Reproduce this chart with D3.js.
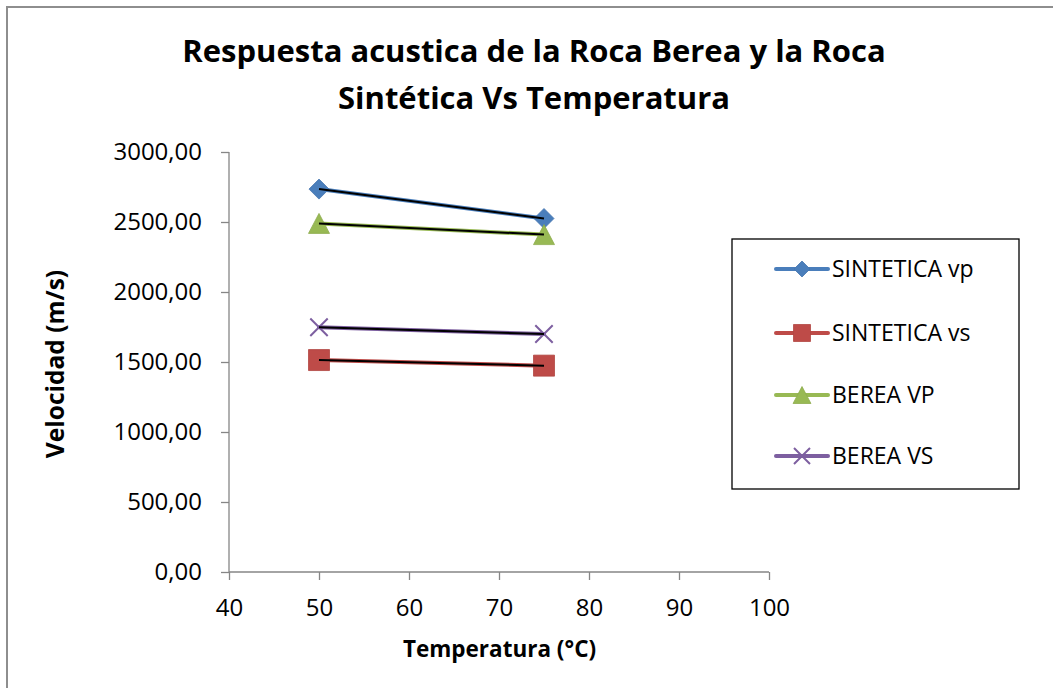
<!DOCTYPE html>
<html><head><meta charset="utf-8">
<script src="https://cdn.jsdelivr.net/npm/d3@7"></script>
<style>body{margin:0;background:#fff}svg{display:block}</style>
</head><body>
<svg id="c" width="1053" height="688"></svg>
<script>
const temps = [50, 75];
const seriesNames = ["SINTETICA vp", "SINTETICA vs", "BEREA VP", "BEREA VS"];
const sinteticaVp = [2735, 2525];
const sinteticaVs = [1514, 1474];
const bereaVp = [2490, 2410];
const bereaVs = [1748, 1700];
const colors = ["#4A7EBB", "#BE4B48", "#98B954", "#7D5FA0"];
const markers = ["diamond", "square", "triangle", "x"];
const yTicks = [0, 500, 1000, 1500, 2000, 2500, 3000];
const xTicks = [40, 50, 60, 70, 80, 90, 100];
const titleLines = ["Respuesta acustica de la Roca Berea y la Roca", "Sintética Vs Temperatura"];

const values = [sinteticaVp, sinteticaVs, bereaVp, bereaVs];
const series = seriesNames.map((n, i) => ({name: n, color: colors[i], marker: markers[i], pts: temps.map((t, j) => [t, values[i][j]])}));
const FONT = "Open Sans, sans-serif";
const svg = d3.select("#c");

svg.append("rect").attr("x", 7).attr("y", 7).attr("width", 1060).attr("height", 700)
  .attr("fill", "#fff").attr("stroke", "#8e8e8e").attr("stroke-width", 2);

const x = d3.scaleLinear().domain([40, 100]).range([229, 769]);
const y = d3.scaleLinear().domain([0, 3000]).range([572, 152]);

const gx = svg.append("g").attr("transform", "translate(0,572)")
  .call(d3.axisBottom(x).tickValues(xTicks).tickSize(8).tickFormat(d3.format("d")));
const gy = svg.append("g").attr("transform", "translate(229,0)")
  .call(d3.axisLeft(y).tickValues(yTicks).tickSize(8).tickPadding(19)
    .tickFormat(d => d3.format(".2f")(d).replace(".", ",")));
[gx, gy].forEach(g => {
  g.selectAll("path,line").attr("stroke", "#868686").attr("stroke-width", 1.3);
  g.selectAll("text").attr("font-family", FONT).attr("font-size", 24).attr("fill", "#000");
});
gx.selectAll("text").attr("y", 44).attr("dy", 0);
gx.select(".domain").attr("d", "M229,0H769");
gy.select(".domain").attr("d", "M0,152V572");

function markerPath(type, s) {
  if (type === "diamond") return `M0,${-s}L${s},0L0,${s}L${-s},0Z`;
  if (type === "square") return `M${-s},${-s}h${2*s}v${2*s}h${-2*s}Z`;
  if (type === "triangle") return `M0,${-s}L${s*1.05},${s}L${-s*1.05},${s}Z`;
  return `M${-s},${-s}L${s},${s}M${-s},${s}L${s},${-s}`;
}
function drawMarker(g, type, color, cx, cy, size) {
  const p = g.append("path").attr("d", markerPath(type, size)).attr("transform", `translate(${cx},${cy})`);
  if (type === "x") p.attr("fill", "none").attr("stroke", color).attr("stroke-width", 2);
  else p.attr("fill", color).attr("stroke", d3.color(color).darker(0.2)).attr("stroke-width", 0.8);
}
const msize = {diamond: 10, square: 10.5, triangle: 10, x: 8.7};
const lsize = {diamond: 8, square: 8.5, triangle: 8.5, x: 8};

const line = d3.line().x(d => x(d[0])).y(d => y(d[1]));
const plot = svg.append("g");
series.forEach(s => {
  plot.append("path").attr("d", line(s.pts)).attr("fill", "none")
    .attr("stroke", s.color).attr("stroke-width", 4).attr("stroke-linecap", "round");
});
series.forEach(s => {
  s.pts.forEach(p => drawMarker(plot, s.marker, s.color, x(p[0]), y(p[1]), msize[s.marker]));
});
// linear trendlines (black)
series.forEach(s => {
  plot.append("path").attr("d", line(s.pts)).attr("fill", "none")
    .attr("stroke", "#000").attr("stroke-width", 2);
});

// title
titleLines.forEach((t, i) => {
  svg.append("text").attr("x", 534).attr("y", 62 + i * 47).attr("text-anchor", "middle")
    .attr("font-family", FONT).attr("font-weight", "bold").attr("font-size", 31).text(t);
});
svg.append("text").attr("transform", "translate(64,364) rotate(-90)").attr("text-anchor", "middle")
  .attr("font-family", FONT).attr("font-weight", "bold").attr("font-size", 24.5).text("Velocidad (m/s)");
svg.append("text").attr("x", 499.5).attr("y", 657).attr("text-anchor", "middle")
  .attr("font-family", FONT).attr("font-weight", "bold").attr("font-size", 22.5).text("Temperatura (°C)");

// legend
const lg = svg.append("g");
lg.append("rect").attr("x", 732).attr("y", 239).attr("width", 287).attr("height", 250)
  .attr("fill", "#fff").attr("stroke", "#000").attr("stroke-width", 1.3);
const ly = [269, 333, 395, 456];
series.forEach((s, i) => {
  lg.append("line").attr("x1", 776).attr("x2", 828).attr("y1", ly[i]).attr("y2", ly[i])
    .attr("stroke", s.color).attr("stroke-width", 4).attr("stroke-linecap", "round");
  drawMarker(lg, s.marker, s.color, 802, ly[i], lsize[s.marker]);
  lg.append("text").attr("x", 832).attr("y", ly[i] + 8).attr("font-family", FONT)
    .attr("font-size", 23).text(s.name);
});
</script>
</body></html>
